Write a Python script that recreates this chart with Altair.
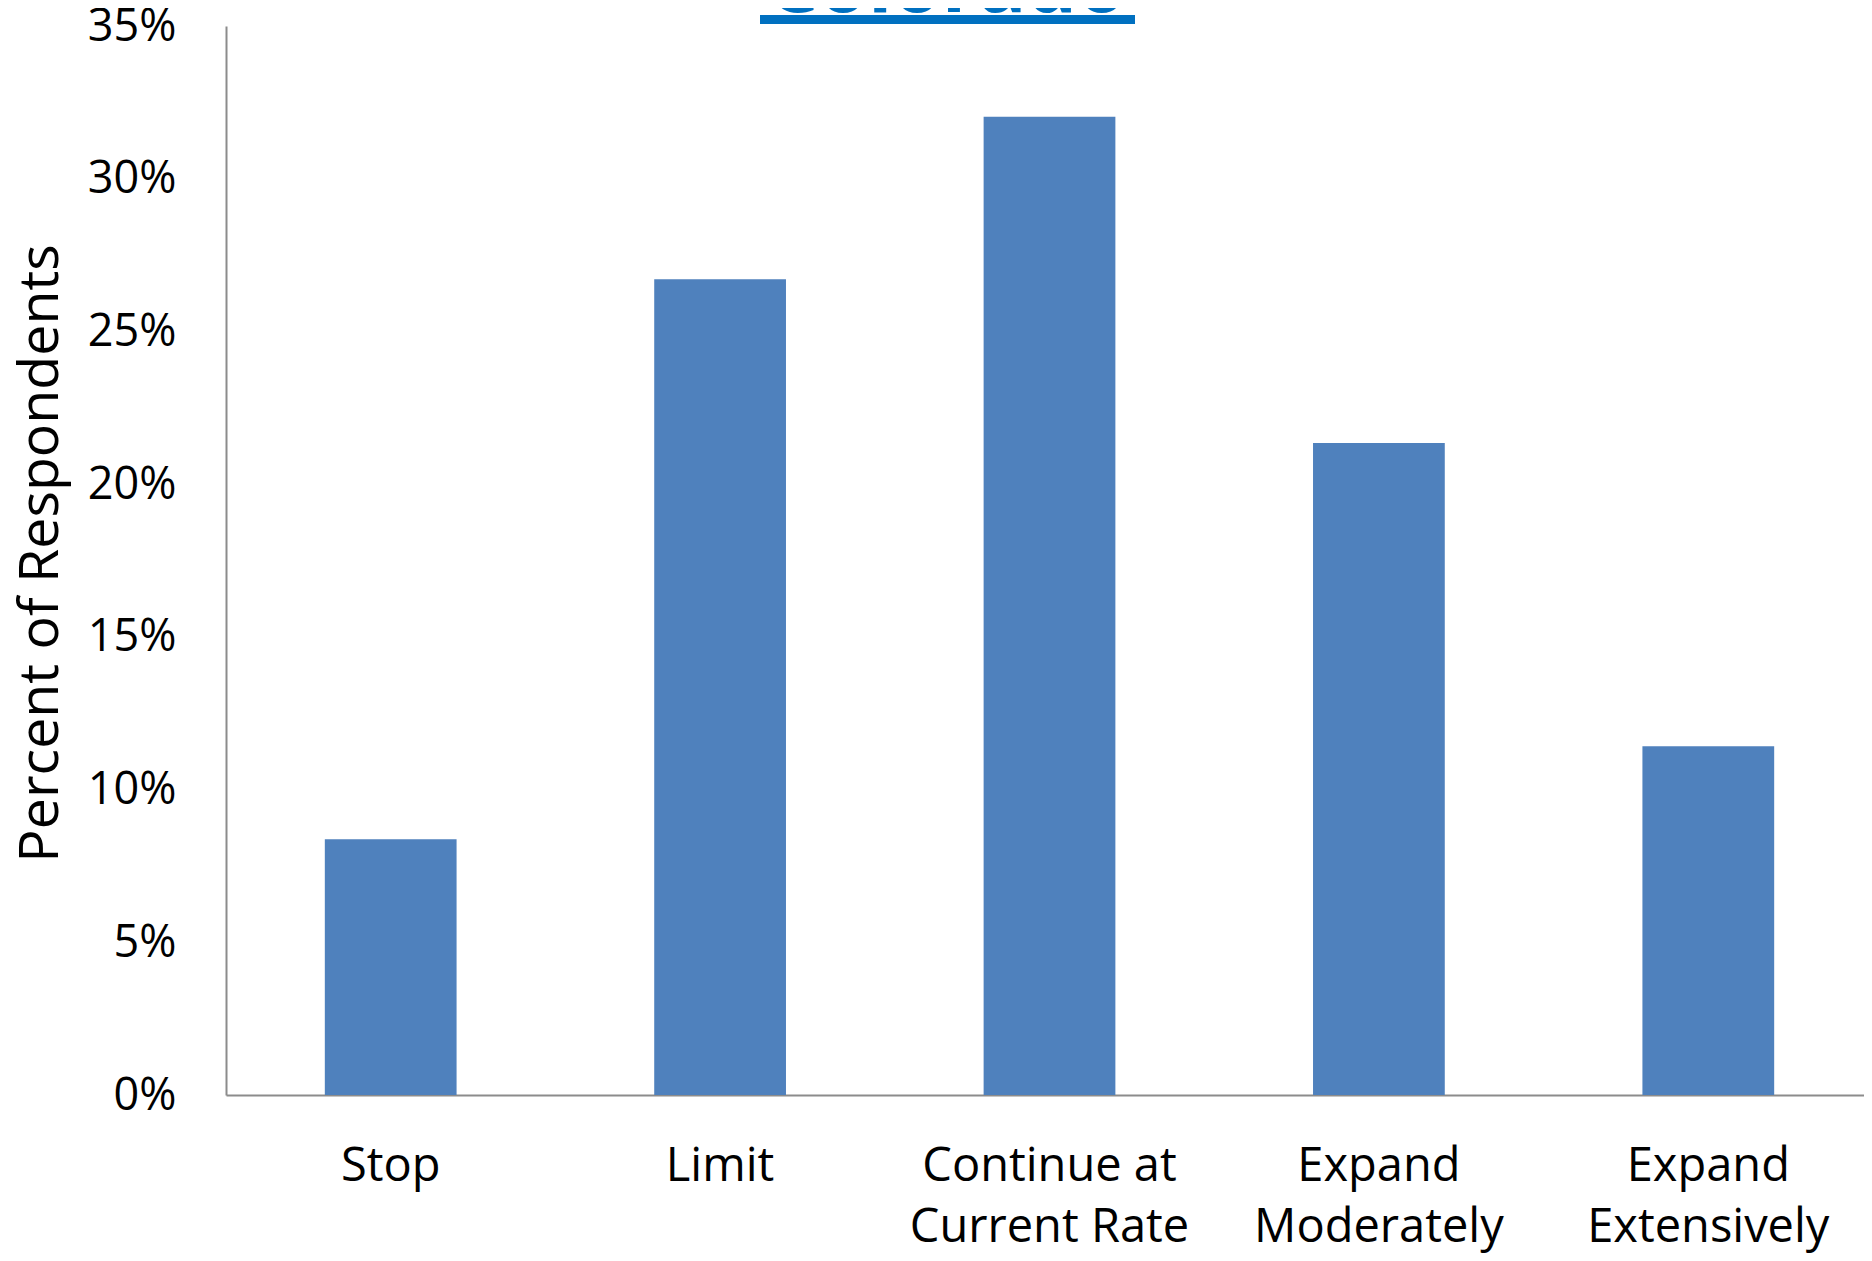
import altair as alt
import pandas as pd

categories = ["Stop", "Limit", "Continue at\nCurrent Rate", "Expand\nModerately", "Expand\nExtensively"]
percents = [0.0837, 0.2671, 0.3203, 0.2135, 0.1142]
y_ticks = [0.0, 0.05, 0.10, 0.15, 0.20, 0.25, 0.30, 0.35]
title_text = ["Colorado"]

df = pd.DataFrame({"category": categories, "percent": percents})
df_title = pd.DataFrame({"t": title_text})

FONT = "Open Sans"

bars = alt.Chart(df).mark_bar(color="#4F81BD").encode(
    x=alt.X(
        "category:N",
        sort=categories,
        scale=alt.Scale(paddingInner=0.6, paddingOuter=0.3, range=[0, 1647]),
        axis=alt.Axis(
            title=None,
            labelAngle=0,
            labelExpr="split(datum.label, '\\n')",
            labelFont=FONT,
            labelFontSize=47,
            labelColor="black",
            labelPadding=48,
            labelBaseline="top",
            labelLineHeight=61,
            labelLimit=0,
            ticks=False,
            domainColor="#8c8c8c",
            domainWidth=2,
        ),
    ),
    y=alt.Y(
        "percent:Q",
        scale=alt.Scale(domain=[0, 0.35], nice=False),
        axis=alt.Axis(
            values=y_ticks,
            format=".0%",
            title="Percent of Respondents",
            titleFont=FONT,
            titleFontSize=55.5,
            titleFontWeight="normal",
            titleColor="black",
            titleAngle=-90,
            titleAlign="center",
            titleBaseline="middle",
            titleX=-186,
            titleY=527,
            grid=False,
            ticks=False,
            labelFont=FONT,
            labelFontSize=45,
            labelColor="black",
            labelPadding=50,
            domainColor="#8c8c8c",
            domainWidth=2,
        ),
    ),
)

title = alt.Chart(df_title).mark_text(
    font=FONT, fontSize=80, fontWeight="bold", color="#0070C0",
    align="center", baseline="alphabetic",
).encode(x=alt.value(721), y=alt.value(-14), text="t:N")

underline = alt.Chart(df_title).mark_rule(color="#0070C0", strokeWidth=9).encode(
    x=alt.value(534), x2=alt.value(909), y=alt.value(-6.5)
)

chart = alt.layer(bars, title, underline).properties(
    width=1638,
    height=1069,
    autosize=alt.AutoSizeParams(type="none"),
    padding={"left": 218, "top": 18, "right": 0, "bottom": 158},
).configure_view(stroke=None)

chart.save("out.html", embed_options={"renderer": "svg", "actions": False})
